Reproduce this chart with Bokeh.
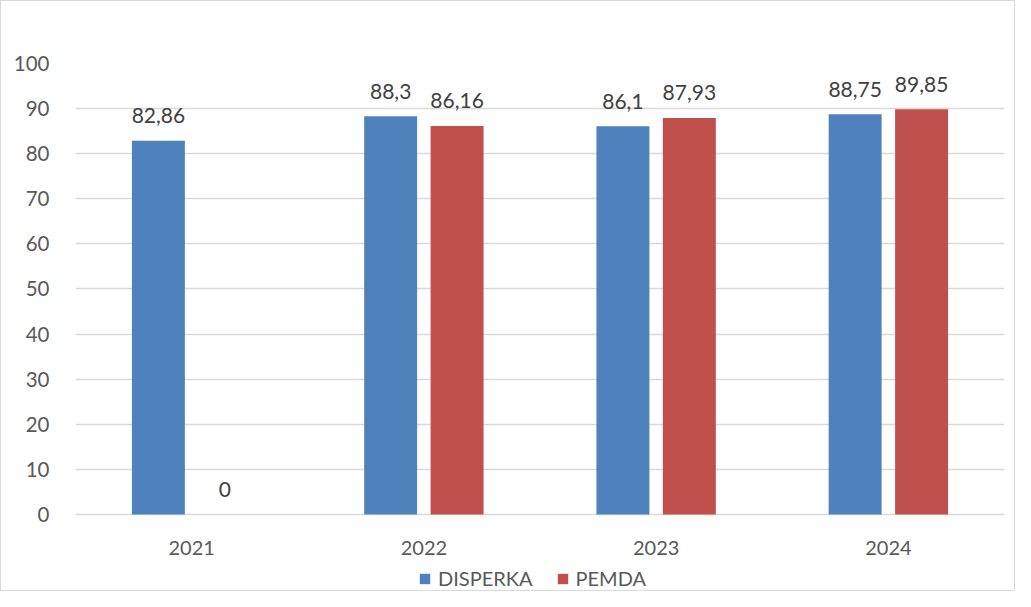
from bokeh.plotting import figure
from bokeh.models import ColumnDataSource, FactorRange, Range1d, Legend, LegendItem, FixedTicker
from bokeh.transform import dodge
from bokeh.core.properties import value
from bokeh.embed import file_html
from bokeh.resources import INLINE

years = ["2021", "2022", "2023", "2024"]
disperka = [82.86, 88.3, 86.1, 88.75]
pemda = [0, 86.16, 87.93, 89.85]
y_ticks = [0, 10, 20, 30, 40, 50, 60, 70, 80, 90, 100]

def fmt(v):
    return f"{v:g}".replace(".", ",")

src = ColumnDataSource(dict(
    year=years,
    disperka=disperka,
    pemda=pemda,
    dl=[fmt(v) for v in disperka],
    pl=[fmt(v) for v in pemda],
    base=[0] * len(years),
))

FONT = "Lato"
TXT = "#595959"
BLUE = "#4F81BD"
RED = "#C0504D"

p = figure(width=1015, height=591, x_range=FactorRange(*years), y_range=Range1d(-17.3, 100),
           output_backend="svg", toolbar_location=None,
           min_border_left=74, min_border_right=12, min_border_top=62, min_border_bottom=0)
p.styles = {"border": "1px solid #d9d9d9"}
p.outline_line_color = None
p.background_fill_color = "white"
p.border_fill_color = "white"
p.xaxis.visible = False

off = 0.143
bw = 0.228
r1 = p.vbar(x=dodge("year", -off, range=p.x_range), top="disperka", width=bw, source=src,
            fill_color=BLUE, line_color=None)
r2 = p.vbar(x=dodge("year", off, range=p.x_range), top="pemda", width=bw, source=src,
            fill_color=RED, line_color=None)

p.text(x=dodge("year", -off, range=p.x_range), y="disperka", text="dl", source=src,
       text_align="center", text_baseline="alphabetic", y_offset=-25,
       text_font=value(FONT), text_font_size="21px", text_color="#404040")
p.text(x=dodge("year", off, range=p.x_range), y="pemda", text="pl", source=src,
       text_align="center", text_baseline="alphabetic", y_offset=-25,
       text_font=value(FONT), text_font_size="21px", text_color="#404040")

# category labels under the baseline
p.text(x="year", y="base", text="year", source=src,
       text_align="center", text_baseline="middle", y_offset=34,
       text_font=value(FONT), text_font_size="20px", text_color=TXT)

p.xgrid.grid_line_color = None
p.ygrid.grid_line_color = "#d9d9d9"
p.ygrid.grid_line_width = 1.5

p.yaxis.ticker = FixedTicker(ticks=y_ticks)
p.yaxis.axis_line_color = None
p.yaxis.major_tick_line_color = None
p.yaxis.minor_tick_line_color = None
p.yaxis.major_label_text_font = FONT
p.yaxis.major_label_text_font_size = "20.5px"
p.yaxis.major_label_text_color = TXT
p.yaxis.major_label_standoff = 20

legend = Legend(items=[LegendItem(label="DISPERKA", renderers=[r1]),
                       LegendItem(label="PEMDA", renderers=[r2])],
                orientation="horizontal", location=(343, 2))
legend.border_line_color = None
legend.background_fill_alpha = 0
legend.label_text_font = FONT
legend.label_text_font_size = "20px"
legend.label_text_color = TXT
legend.glyph_width = 13
legend.glyph_height = 13
legend.label_standoff = 7
legend.spacing = 23
legend.padding = 0
legend.margin = 0
p.add_layout(legend, "center")

open("out.html", "w").write(file_html(p, INLINE))
